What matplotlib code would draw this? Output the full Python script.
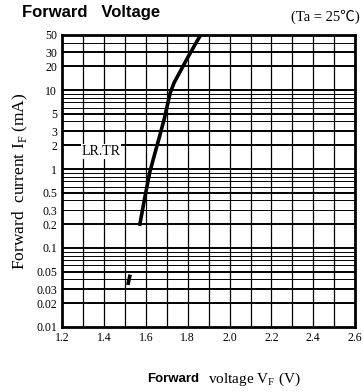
import matplotlib.pyplot as plt
import numpy as np

# curve
vf = [1.569, 1.593, 1.617, 1.640, 1.665, 1.688, 1.703, 1.716, 1.735, 1.765, 1.800, 1.847, 1.862]
i_f = [0.19, 0.42, 0.89, 1.5, 2.6, 4.4, 6.6, 9.3, 12.5, 17.5, 26.0, 43.0, 50.0]
# short stray piece near 0.04 mA
vf_low = [1.513, 1.524]
i_low = [0.034, 0.046]

x_ticks = [1.2, 1.4, 1.6, 1.8, 2.0, 2.2, 2.4, 2.6]
y_ticks = [0.01, 0.02, 0.03, 0.05, 0.1, 0.2, 0.3, 0.5, 1, 2, 3, 5, 10, 20, 30, 50]
y_labels = ['0.01', '0.02', '0.03', '0.05', '0.1', '0.2', '0.3', '0.5',
            '1', '2', '3', '5', '10', '20', '30', '50']

serif = ['Liberation Serif', 'Noto Sans CJK SC', 'DejaVu Sans']

fig = plt.figure(figsize=(3.63, 3.92), dpi=100)
ax = fig.add_axes([0.172, 0.166, 0.806, 0.745])
ax.set_yscale('log')
ax.set_xlim(1.2, 2.6)
ax.set_ylim(0.01, 50)

# grid lines: every 0.1 V, every 1..9 within each decade
for x in np.arange(1.3, 2.6, 0.1):
    ax.axvline(x, color='black', lw=0.9, zorder=1)
for dec in [0.01, 0.1, 1, 10]:
    for m in range(1, 10):
        y = dec * m
        if 0.01 < y <= 50:
            lw = 1.4 if y in y_ticks else 0.7
            ax.axhline(y, color='black', lw=lw, zorder=1)

ax.plot(vf, i_f, color='black', lw=2.6, zorder=3, solid_capstyle='butt')
ax.plot(vf_low, i_low, color='black', lw=2.6, zorder=3, solid_capstyle='butt')
ax.text(1.29, 1.5, 'LR.TR', family=serif, fontsize=10, zorder=4,
        bbox=dict(facecolor='white', edgecolor='none', pad=0.5))

ax.set_xticks(x_ticks)
ax.set_xticklabels(['%.1f' % x for x in x_ticks], family=serif, fontsize=8.5)
ax.set_yticks(y_ticks)
ax.set_yticklabels(y_labels, family=serif, fontsize=8.5)
ax.minorticks_off()
ax.tick_params(length=0, pad=4)
for s in ax.spines.values():
    s.set_linewidth(2)

fig.text(0.06, 0.968, 'Forward   Voltage', fontsize=12, fontweight='bold',
         family='Liberation Sans', va='center')
fig.text(0.99, 0.958, '(Ta = 25\u2103)', fontsize=10.5, family=serif,
         ha='right', va='center')
ax.set_ylabel('Forward  current I$_\\mathregular{F}$ (mA)', family=serif,
              fontsize=12.5, labelpad=4)
fig.text(0.405, 0.033, 'Forward', fontsize=9.5, fontweight='bold',
         family='Liberation Sans', va='center')
fig.text(0.572, 0.033, 'voltage V$_\\mathregular{F}$ (V)', fontsize=11,
         family=serif, va='center')

fig.savefig('out.png', dpi=100)
